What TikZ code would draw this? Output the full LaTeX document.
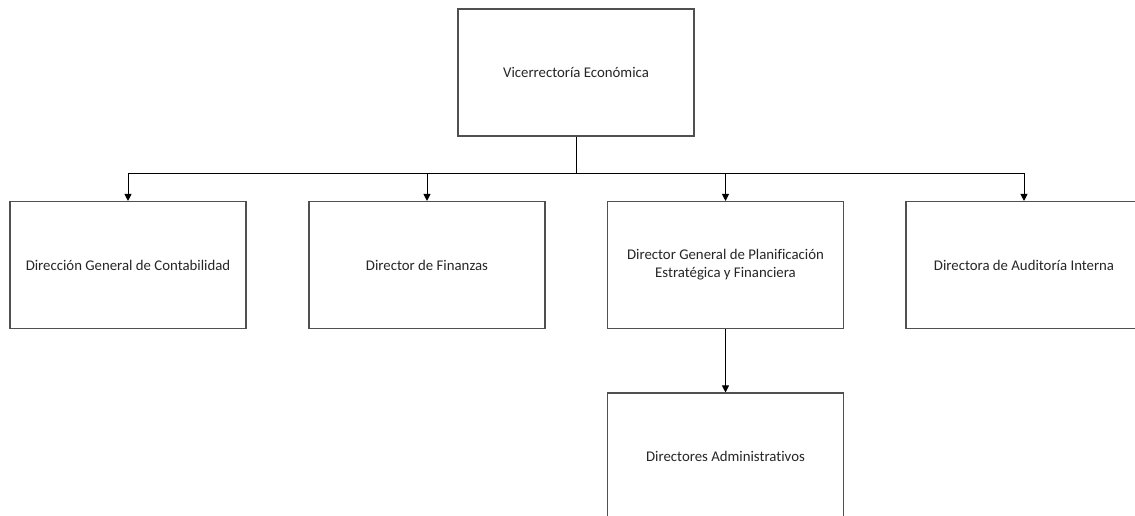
\documentclass[tikz,border=0pt]{standalone}
\usepackage{fontspec}
\setmainfont{Carlito}[Ligatures={CommonOff}]
\usetikzlibrary{arrows.meta}
\definecolor{boxline}{HTML}{505050}
\definecolor{txt}{HTML}{262626}
\begin{document}
\begin{tikzpicture}[x=1pt,y=-1pt,
  orgbox/.style={draw=boxline, line width=1.1pt, fill=white, minimum width=236pt, minimum height=127pt, inner sep=0pt, align=center, text=txt, font=\fontsize{14.8}{18}\selectfont},
  conn/.style={draw=black, line width=0.9pt},
  arr/.style={conn, -{Triangle[length=7pt,width=7pt]}}]
\useasboundingbox (0,0) rectangle (1135,515);
\clip (0,0) rectangle (1135,515);
\node[orgbox] (top) at (576,72.5) {Vicerrectoría Económica};
\node[orgbox] (a) at (128,265) {Dirección General de Contabilidad};
\node[orgbox] (b) at (427,265) {Director de Finanzas};
\node[orgbox] (c) at (725.5,265) {Director General de Planificación\\Estratégica y Financiera};
\node[orgbox] (d) at (1024,265) {Directora de Auditoría Interna};
\node[orgbox] (e) at (725.5,456.5) {Directores Administrativos};
\coordinate (j) at (576,173);
\draw[conn] (top.south) -- (j);
\draw[arr] (j) -| (a.north);
\draw[arr] (j) -| (b.north);
\draw[arr] (j) -| (c.north);
\draw[arr] (j) -| (d.north);
\draw[arr] (c.south) -- (e.north);
\end{tikzpicture}
\end{document}
